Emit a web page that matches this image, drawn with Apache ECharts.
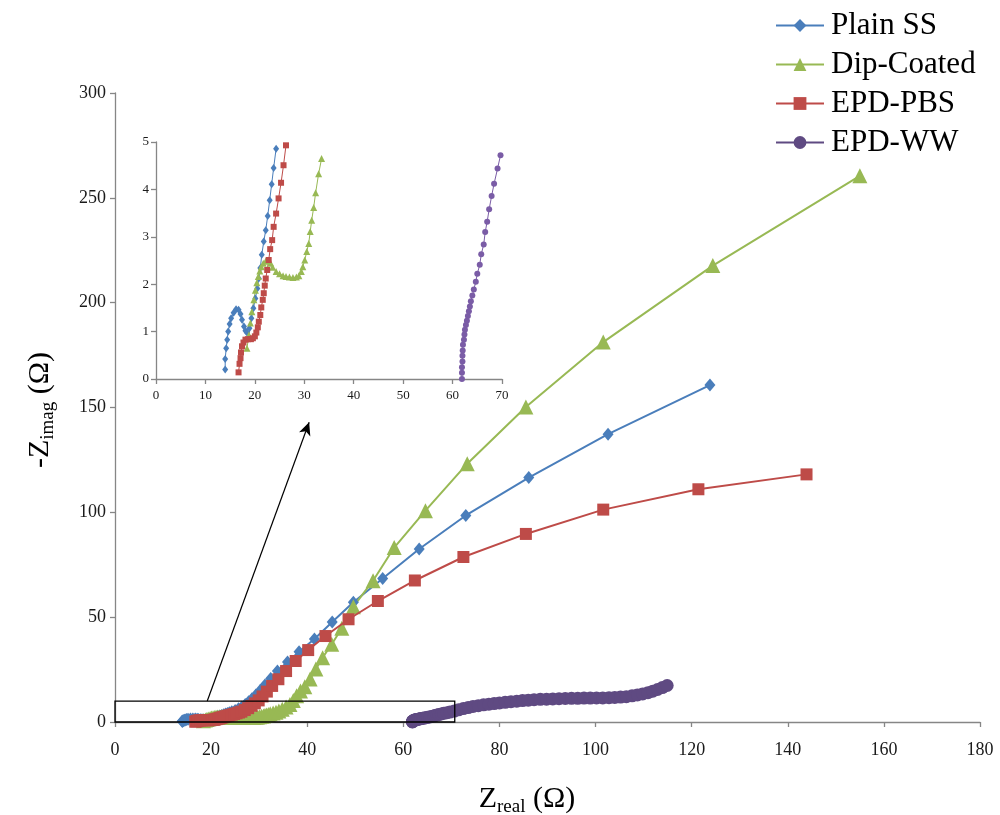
<!DOCTYPE html>
<html>
<head>
<meta charset="utf-8">
<title>Nyquist plot</title>
<script src="https://cdn.jsdelivr.net/npm/echarts@6/dist/echarts.min.js"></script>
<style>
  html, body { margin: 0; padding: 0; background: #fff; }
  #chart { width: 1000px; height: 815px; }
</style>
</head>
<body>
<div id="chart"></div>
<script>
// Impedance spectra: [Z_real (Ω), -Z_imag (Ω)]
const plainSS = [
  [14.0,0.20],[14.0,0.42],[14.2,0.65],[14.4,0.83],[14.6,1.00],[14.9,1.16],[15.2,1.28],[15.7,1.40],
  [16.2,1.47],[16.7,1.46],[17.1,1.37],[17.4,1.25],[17.8,1.11],[18.1,1.02],[18.4,0.98],[18.9,1.07],
  [19.3,1.28],[19.7,1.49],[20.1,1.70],[20.5,1.91],[20.8,2.12],[21.1,2.34],[21.4,2.62],[21.8,2.90],
  [22.2,3.14],[22.6,3.44],[23.0,3.77],[23.4,4.11],[23.8,4.45],[24.3,4.86],
  [25.0,5.5],[25.7,6.3],[26.4,7.2],[27.1,8.3],[27.8,9.6],[28.5,11.1],[29.3,12.9],[30.2,15.0],
  [31.2,17.6],[32.4,20.8],[33.8,24.3],[35.9,28.6],[38.3,33.5],[41.5,39.6],[45.2,47.7],[49.6,57.1],
  [55.7,68.4],[63.3,82.5],[73.0,98.5],[86.1,116.6],[102.6,137.3],[123.8,160.7]
];

const dipCoated = [
  [18.4,0.65],[18.8,0.93],[19.1,1.18],[19.4,1.42],[19.8,1.67],[20.1,1.87],[20.4,2.03],[20.7,2.16],
  [21.0,2.28],[21.3,2.37],[21.7,2.44],[22.2,2.49],[22.7,2.49],[23.2,2.44],[23.6,2.36],[24.3,2.27],
  [25.0,2.22],[25.7,2.18],[26.3,2.16],[27.0,2.15],[27.7,2.14],[28.4,2.15],[28.9,2.18],[29.4,2.27],
  [29.7,2.37],[30.1,2.51],[30.5,2.69],[30.9,2.86],[31.2,3.11],[31.5,3.35],[31.9,3.62],[32.3,3.93],
  [32.9,4.33],[33.5,4.65],
  [34.1,5.3],[34.8,6.1],[35.6,7.1],[36.4,8.4],[37.1,10.3],[37.8,12.5],[38.6,14.8],[39.5,16.8],
  [40.6,20.5],[41.8,25.3],[43.2,30.7],[45.1,37.1],[47.2,44.7],[49.6,55.0],[53.7,67.4],[58.1,83.2],
  [64.6,100.8],[73.3,123.2],[85.5,150.2],[101.6,181.2],[124.4,217.7],[155.0,260.5]
];

const epdPBS = [
  [16.7,0.14],[16.9,0.32],[17.1,0.44],[17.2,0.56],[17.4,0.69],[17.7,0.77],[18.1,0.83],[18.6,0.84],
  [19.2,0.84],[19.6,0.86],[20.0,0.90],[20.3,0.98],[20.6,1.09],[20.8,1.21],[21.1,1.35],[21.3,1.51],
  [21.6,1.67],[21.8,1.81],[22.0,1.97],[22.2,2.12],[22.5,2.30],[22.8,2.51],[23.1,2.74],[23.5,2.93],
  [23.8,3.21],[24.3,3.49],[24.8,3.81],[25.3,4.14],[25.8,4.51],[26.3,4.93],
  [27.0,5.7],[27.7,6.6],[28.4,7.7],[29.1,8.9],[29.9,10.3],[30.7,12.2],[31.6,14.5],[32.7,17.2],
  [34.0,20.4],[35.6,24.3],[37.6,29.1],[40.2,34.3],[43.8,41.0],[48.6,49.0],[54.7,57.7],[62.4,67.5],
  [72.5,78.7],[85.5,89.7],[101.6,101.3],[121.4,111.0],[143.9,118.1]
];

const epdWW = [
  [61.9,0.00],[61.9,0.13],[61.9,0.25],[62.0,0.37],[62.0,0.49],[62.05,0.60],[62.1,0.72],[62.3,0.83],
  [62.4,0.94],[62.5,1.04],[62.7,1.14],[62.9,1.23],[63.1,1.33],[63.3,1.43],[63.5,1.53],[63.7,1.64],
  [64.0,1.76],[64.3,1.89],[64.7,2.05],[65.0,2.22],[65.5,2.41],[65.8,2.63],[66.3,2.84],[66.6,3.10],
  [67.0,3.32],[67.4,3.58],[67.9,3.86],[68.4,4.12],[69.1,4.44],[69.7,4.72],
  [70.6,5.2],[71.5,5.8],[72.5,6.4],[73.5,6.9],[74.5,7.4],[75.6,7.8],[76.7,8.2],[77.8,8.5],
  [78.9,8.8],[80.0,9.1],[81.2,9.4],[82.4,9.7],[83.6,9.9],[84.8,10.2],[86.0,10.4],[87.2,10.6],
  [88.5,10.8],[89.8,10.9],[91.1,11.0],[92.4,11.1],[93.7,11.2],[95.0,11.3],[96.3,11.3],[97.6,11.4],
  [98.9,11.4],[100.2,11.5],[101.5,11.5],[102.8,11.6],[104.0,11.7],[105.2,11.9],[106.4,12.1],[107.6,12.5],
  [108.7,12.9],[109.8,13.4],[110.9,14.0],[111.9,14.7],[112.9,15.5],[113.9,16.4],[114.9,17.4]
];

const seriesNames = ['Plain SS', 'Dip-Coated', 'EPD-PBS', 'EPD-WW'];

// Main axes and the zoomed high-frequency window
const mainX = { min: 0, max: 180, interval: 20 };
const mainY = { min: 0, max: 300, interval: 50 };
const insetX = { min: 0, max: 70, interval: 10 };
const insetY = { min: 0, max: 5, interval: 1 };

// Outlined region that the inset magnifies, and the arrow pointing to it
const zoomBox = [[0, 0], [70.7, 10]];
const zoomArrow = [[19.2, 10], [40.4, 143]];

const SERIF = '"Liberation Serif", "Times New Roman", serif';
const COLORS = ['#4a7ebb', '#98b954', '#be4b48', '#5f4a82'];
const INSET_COLORS = ['#4a7ebb', '#98b954', '#be4b48', '#7a5ca6'];
const SYMBOLS = ['diamond', 'triangle', 'rect', 'circle'];
const MAIN_SIZES = [[11, 13], 15, 12, 13];
const INSET_SIZES = [[6, 8], 7, 6, 6];
const datasets = [plainSS, dipCoated, epdPBS, epdWW];

function inWindow(p) {
  return p[0] >= insetX.min && p[0] <= insetX.max && p[1] >= insetY.min && p[1] <= insetY.max;
}

const mainSeries = datasets.map((d, i) => ({
  name: seriesNames[i],
  type: 'line',
  xAxisIndex: 0,
  yAxisIndex: 0,
  data: d,
  symbol: SYMBOLS[i],
  symbolSize: MAIN_SIZES[i],
  showAllSymbol: true,
  smooth: false,
  lineStyle: { color: COLORS[i], width: 2 },
  itemStyle: { color: COLORS[i] },
  z: 3 + (i === 2 ? 1 : 0)
}));

const insetSeries = datasets.map((d, i) => ({
  name: seriesNames[i],
  type: 'line',
  xAxisIndex: 1,
  yAxisIndex: 1,
  data: d.filter(inWindow),
  symbol: SYMBOLS[i],
  symbolSize: INSET_SIZES[i],
  showAllSymbol: true,
  lineStyle: { color: INSET_COLORS[i], width: 1 },
  itemStyle: { color: INSET_COLORS[i] },
  z: 3
}));

const annotation = {
  type: 'line',
  xAxisIndex: 0,
  yAxisIndex: 0,
  data: [],
  silent: true,
  z: 10,
  markArea: {
    silent: true,
    itemStyle: { color: 'rgba(0,0,0,0)', borderColor: '#000', borderWidth: 1.3 },
    data: [[{ coord: zoomBox[0] }, { coord: zoomBox[1] }]],
    z: 10
  },
  markLine: {
    silent: true,
    symbol: ['none', 'arrow'],
    symbolSize: [9, 13],
    label: { show: false },
    lineStyle: { color: '#000', width: 1.2, type: 'solid' },
    data: [[{ coord: zoomArrow[0] }, { coord: zoomArrow[1] }]]
  }
};

function axisStyle(fontSize, margin) {
  return {
    axisLine: { show: true, onZero: false, lineStyle: { color: '#868686', width: 1.3 } },
    axisTick: { show: true, inside: false, length: 5, lineStyle: { color: '#868686', width: 1.3 } },
    splitLine: { show: false },
    axisLabel: { color: '#1a1a1a', fontFamily: SERIF, fontSize: fontSize, margin: margin }
  };
}

const titleRich = {
  a: { fontFamily: SERIF, fontSize: 30, lineHeight: 36, fill: '#000' },
  s: { fontFamily: SERIF, fontSize: 19, verticalAlign: 'bottom', fill: '#000' }
};

const chart = echarts.init(document.getElementById('chart'), null, { renderer: 'canvas' });

chart.setOption({
  animation: false,
  backgroundColor: '#fff',
  grid: [
    { left: 115, top: 93, width: 865, height: 629, containLabel: false },
    { left: 156, top: 142, width: 346, height: 237, containLabel: false }
  ],
  xAxis: [
    Object.assign({ type: 'value', gridIndex: 0 }, mainX, axisStyle(18, 19)),
    Object.assign({ type: 'value', gridIndex: 1 }, insetX, axisStyle(13, 10))
  ],
  yAxis: [
    Object.assign({ type: 'value', gridIndex: 0 }, mainY, axisStyle(18, 9)),
    Object.assign({ type: 'value', gridIndex: 1 }, insetY, axisStyle(13, 7))
  ],
  legend: {
    orient: 'vertical',
    left: 770,
    top: 5,
    itemWidth: 48,
    itemHeight: 16,
    itemGap: 8,
    data: seriesNames,
    textStyle: { fontFamily: SERIF, fontSize: 31, color: '#000', padding: [0, 0, 0, 2] }
  },
  graphic: [
    {
      type: 'text',
      x: 40, y: 410,
      rotation: Math.PI / 2,
      style: {
        text: '{a|-Z}{s|imag}{a| (Ω)}',
        align: 'center',
        verticalAlign: 'middle',
        rich: titleRich
      }
    },
    {
      type: 'text',
      x: 527, y: 799,
      style: {
        text: '{a|Z}{s|real}{a| (Ω)}',
        align: 'center',
        verticalAlign: 'middle',
        rich: titleRich
      }
    }
  ],
  series: mainSeries.concat(insetSeries, [annotation])
});
</script>
</body>
</html>
